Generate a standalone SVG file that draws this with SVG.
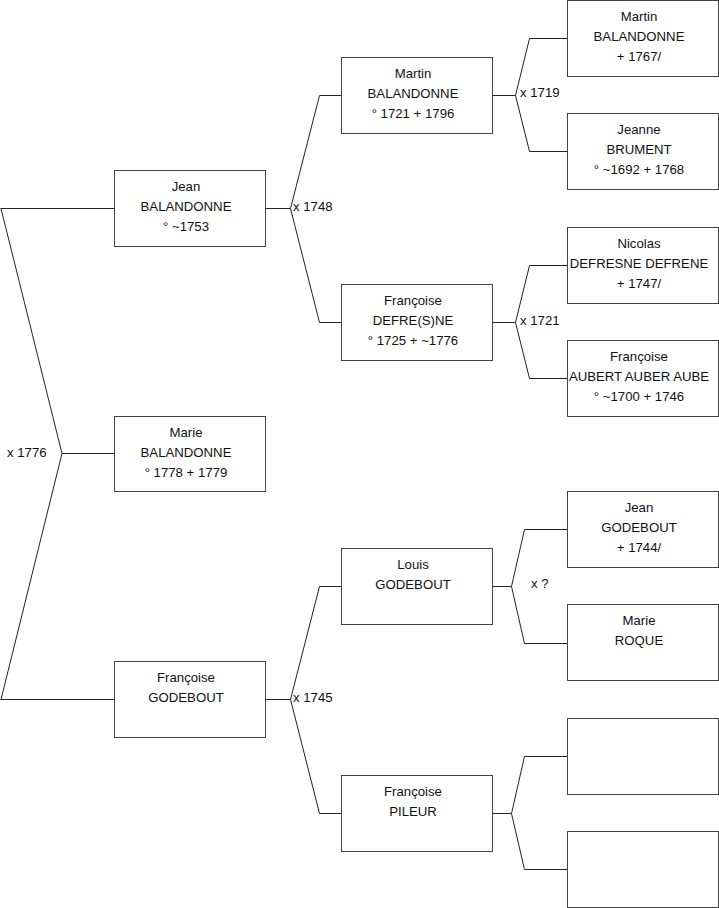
<svg xmlns="http://www.w3.org/2000/svg" width="719" height="908" viewBox="0 0 719 908">
<style>
.box{fill:#fff;stroke:#444;stroke-width:1}
.ln{fill:none;stroke:#222;stroke-width:1}
text{font-family:"Liberation Sans",Arial,sans-serif;font-size:13.2px;fill:#111}
.c{text-anchor:middle}
</style>
<rect width="719" height="908" fill="#fff"/>
<g id="connectors">
<path class="ln" d="M0.5,208.5H114M1,208.5L62,453.5L1,699.5M0.5,699.5H114M62,453.5H114"/>
<path class="ln" d="M265,208.5H290.5L319.5,95.5H341M290.5,208.5L319.5,322.5H341"/>
<path class="ln" d="M265,699.5H290.5L319.5,586.5H341M290.5,699.5L319.5,813.5H341"/>
<path class="ln" d="M492,95.5H515.5L529.5,38.5H567M515.5,95.5L529.5,151.5H567"/>
<path class="ln" d="M492,322.5H515.5L529.5,265.5H567M515.5,322.5L529.5,378.5H567"/>
<path class="ln" d="M492,586.5H511.5L524.5,529.5H567M511.5,586.5L524.5,643.5H567"/>
<path class="ln" d="M492,813.5H511.5L524.5,756.5H567M511.5,813.5L524.5,869.5H567"/>
<text x="7" y="457">x 1776</text>
<text x="293" y="211">x 1748</text>
<text x="293" y="702">x 1745</text>
<text x="520" y="97">x 1719</text>
<text x="520" y="325">x 1721</text>
<text x="531" y="588">x ?</text>
</g>
<g id="n-jean">
<rect class="box" x="114.5" y="170.5" width="151" height="76"/>
<text class="c" x="186" y="191">Jean</text>
<text class="c" x="186" y="211">BALANDONNE</text>
<text class="c" x="186" y="230.5">° ~1753</text>
</g>
<g id="n-marie">
<rect class="box" x="114.5" y="416.5" width="151" height="75"/>
<text class="c" x="186" y="437">Marie</text>
<text class="c" x="186" y="457">BALANDONNE</text>
<text class="c" x="186" y="476.5">° 1778 + 1779</text>
</g>
<g id="n-francoise-godebout">
<rect class="box" x="114.5" y="661.5" width="151" height="76"/>
<text class="c" x="186" y="682">Françoise</text>
<text class="c" x="186" y="702">GODEBOUT</text>
</g>
<g id="n-martin">
<rect class="box" x="341.5" y="57.5" width="151" height="76"/>
<text class="c" x="413" y="78">Martin</text>
<text class="c" x="413" y="98">BALANDONNE</text>
<text class="c" x="413" y="117.5">° 1721 + 1796</text>
</g>
<g id="n-francoise-defresne">
<rect class="box" x="341.5" y="284.5" width="151" height="76"/>
<text class="c" x="413" y="305">Françoise</text>
<text class="c" x="413" y="325">DEFRE(S)NE</text>
<text class="c" x="413" y="344.5">° 1725 + ~1776</text>
</g>
<g id="n-louis">
<rect class="box" x="341.5" y="548.5" width="151" height="76"/>
<text class="c" x="413" y="569">Louis</text>
<text class="c" x="413" y="589">GODEBOUT</text>
</g>
<g id="n-francoise-pileur">
<rect class="box" x="341.5" y="775.5" width="151" height="76"/>
<text class="c" x="413" y="796">Françoise</text>
<text class="c" x="413" y="816">PILEUR</text>
</g>
<g id="n-martin-sr">
<rect class="box" x="567.5" y="0.5" width="151" height="76"/>
<text class="c" x="639" y="21">Martin</text>
<text class="c" x="639" y="41">BALANDONNE</text>
<text class="c" x="639" y="60.5">+ 1767/</text>
</g>
<g id="n-jeanne">
<rect class="box" x="567.5" y="113.5" width="151" height="76"/>
<text class="c" x="639" y="134">Jeanne</text>
<text class="c" x="639" y="154">BRUMENT</text>
<text class="c" x="639" y="173.5">° ~1692 + 1768</text>
</g>
<g id="n-nicolas">
<rect class="box" x="567.5" y="227.5" width="151" height="76"/>
<text class="c" x="639" y="248">Nicolas</text>
<text class="c" x="639" y="268">DEFRESNE DEFRENE</text>
<text class="c" x="639" y="287.5">+ 1747/</text>
</g>
<g id="n-francoise-aubert">
<rect class="box" x="567.5" y="340.5" width="151" height="76"/>
<text class="c" x="639" y="361">Françoise</text>
<text class="c" x="639" y="381">AUBERT AUBER AUBE</text>
<text class="c" x="639" y="400.5">° ~1700 + 1746</text>
</g>
<g id="n-jean-godebout">
<rect class="box" x="567.5" y="491.5" width="151" height="76"/>
<text class="c" x="639" y="512">Jean</text>
<text class="c" x="639" y="532">GODEBOUT</text>
<text class="c" x="639" y="551.5">+ 1744/</text>
</g>
<g id="n-marie-roque">
<rect class="box" x="567.5" y="604.5" width="151" height="76"/>
<text class="c" x="639" y="625">Marie</text>
<text class="c" x="639" y="645">ROQUE</text>
</g>
<g id="n-empty-1">
<rect class="box" x="567.5" y="718.5" width="151" height="76"/>
</g>
<g id="n-empty-2">
<rect class="box" x="567.5" y="831.5" width="151" height="76"/>
</g>
</svg>
